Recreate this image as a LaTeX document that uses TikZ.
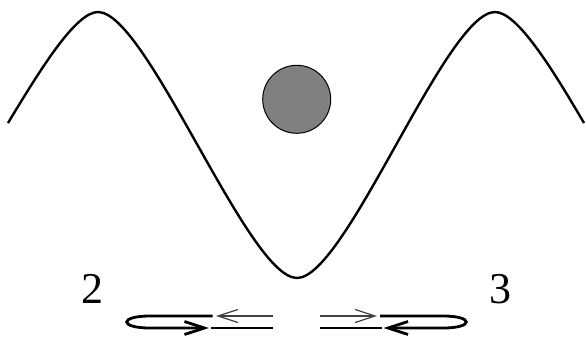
\documentclass[tikz,border=0pt]{standalone}
\usepackage{fontspec}
\setmainfont{Liberation Serif}
\usetikzlibrary{arrows.meta}
\begin{document}
\begin{tikzpicture}[x=1pt,y=-1pt,
  wave/.style={line width=2.4pt},
  thickline/.style={line width=2.8pt},
  thinline/.style={line width=1.2pt, black!75},
  bigtip/.style={-{Straight Barb[length=20pt,width=13pt]}},
  label/.style={font=\fontsize{44}{44}\selectfont, inner sep=0pt, anchor=base}]
\useasboundingbox (0,0) rectangle (586,341);
% potential curve
\draw[wave] (8,123) .. controls (40,70) and (75.6,12) .. (98,12)
  .. controls (147,12) and (248,278) .. (297,278)
  .. controls (346,278) and (446,12) .. (495,12)
  .. controls (517.4,12) and (553,70) .. (584,123);
% particle
\node[circle, draw=black, line width=1pt, fill=black!50, minimum size=68pt, inner sep=0pt] (ball) at (296.7,99.3) {};
% labels
\node[label] (two) at (92.5,303) {2};
\node[label] (three) at (500,303) {3};
% left loop
\coordinate (la) at (212.7,316);
\coordinate (lb) at (209,328);
\draw[thickline, bigtip] (la) -- (150,316) .. controls (119,316) and (119,328) .. (150,328) -- (lb);
\coordinate (lc) at (211,328);
\coordinate (ld) at (272.7,328);
\draw[thickline] (lc) -- (ld);
\coordinate (le) at (272.7,316);
\coordinate (lf) at (216,316);
\draw[thinline, bigtip] (le) -- (lf);
% right loop
\coordinate (ra) at (380,316);
\coordinate (rb) at (383.5,328);
\draw[thickline, bigtip] (ra) -- (443,316) .. controls (474,316) and (474,328) .. (443,328) -- (rb);
\coordinate (rc) at (320,328);
\coordinate (rd) at (381.5,328);
\draw[thickline] (rc) -- (rd);
\coordinate (re) at (320,316);
\coordinate (rf) at (377,316);
\draw[thinline, bigtip] (re) -- (rf);
\end{tikzpicture}
\end{document}
